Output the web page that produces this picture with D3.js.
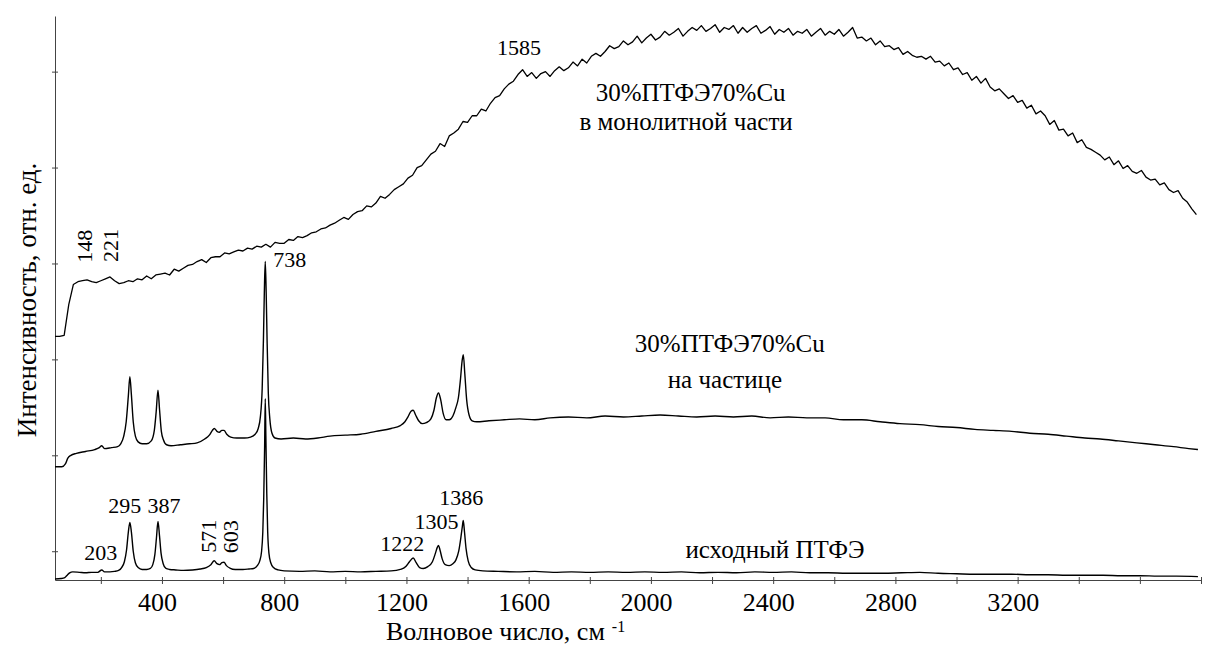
<!DOCTYPE html>
<html>
<head>
<meta charset="utf-8">
<script src="https://cdn.jsdelivr.net/npm/d3@7"></script>
<style>
  html, body { margin: 0; padding: 0; background: #fff; }
  svg { display: block; }
</style>
</head>
<body>
<svg id="chart" width="1205" height="646"></svg>
<script>
// Raman spectra of PTFE and the 30% PTFE / 70% Cu composite (intensity in arbitrary units)

// x axis ticks (wavenumber, cm^-1) and the ones that carry labels
const xTicks = [200, 400, 600, 800, 1000, 1200, 1400, 1600, 1800, 2000, 2200, 2400, 2600, 2800, 3000, 3200, 3400, 3600, 3800];
const xTickLabels = [400, 800, 1200, 1600, 2000, 2400, 2800, 3200];
// unlabelled intensity ticks
const yTicks = [30, 130, 230, 330, 430, 530];

// 30%ПТФЭ70%Cu, monolithic part: sampled every 15 cm^-1 starting at 50 cm^-1
const monoStart = 50;
const monoStep = 15;
const monoValues = [
  254, 254, 255, 287, 308, 311, 312, 313, 311, 310,
  312, 314, 316, 312, 309, 310, 312, 311, 314, 313,
  317, 314, 318, 319, 320, 318, 324, 322, 325, 328,
  329, 332, 334, 331, 336, 337, 337, 341, 340, 342,
  344, 343, 346, 345, 348, 347, 350, 347, 352, 351,
  351, 355, 354, 358, 357, 359, 362, 363, 366, 367,
  370, 372, 375, 378, 376, 381, 384, 385, 390, 389,
  393, 400, 398, 402, 407, 410, 413, 419, 422, 430,
  432, 438, 444, 447, 455, 452, 463, 466, 470, 478,
  477, 484, 484, 491, 489, 497, 503, 505, 512, 517,
  520, 527, 532, 525, 529, 523, 528, 530, 525, 531,
  535, 531, 534, 540, 536, 543, 539, 546, 549, 546,
  551, 557, 554, 556, 562, 558, 561, 567, 560, 565,
  569, 563, 566, 572, 568, 571, 575, 567, 572, 576,
  573, 578, 572, 575, 579, 571, 576, 574, 578, 570,
  576, 571, 575, 578, 570, 573, 577, 569, 574, 571,
  575, 568, 572, 570, 574, 567, 571, 575, 568, 572,
  569, 574, 567, 571, 576, 565, 566, 562, 565, 558,
  562, 556, 557, 553, 555, 548, 551, 547, 545, 546,
  543, 546, 540, 541, 536, 539, 532, 534, 527, 529,
  521, 525, 518, 523, 514, 510, 512, 507, 502, 505,
  498, 500, 492, 495, 486, 489, 484, 475, 479, 469,
  470, 463, 466, 456, 459, 451, 449, 446, 443, 438,
  441, 433, 437, 429, 432, 426, 424, 427, 420, 417,
  418, 412, 414, 407, 404, 406, 398, 394, 387, 381
];

// 30%ПТФЭ70%Cu, on a particle: [wavenumber, intensity]
const particle = [
  [50, 118], [72, 118], [84, 121], [92, 127], [102, 130], [120, 132], [150, 134], [180, 136],
  [195, 138], [203, 140], [212, 137], [235, 138], [255, 139], [265, 142], [275, 150], [283, 165],
  [290, 192], [295, 212], [300, 193], [306, 165], [313, 150], [322, 144], [335, 142], [350, 142],
  [365, 145], [375, 156], [381, 175], [387, 198], [392, 178], [398, 155], [405, 146], [415, 141],
  [430, 140], [460, 141], [490, 142], [515, 143], [540, 147], [555, 151], [565, 156], [571, 158],
  [580, 155], [588, 154], [596, 156], [603, 156], [612, 152], [625, 149], [645, 148], [670, 148],
  [690, 149], [705, 152], [715, 158], [722, 170], [728, 200], [732, 250], [735, 300], [738, 332],
  [741, 300], [744, 250], [748, 195], [753, 168], [760, 153], [770, 148], [790, 147], [830, 148],
  [870, 147], [910, 148], [950, 150], [1000, 151], [1050, 152], [1100, 155], [1150, 158], [1180, 161],
  [1195, 165], [1205, 170], [1215, 176], [1222, 177], [1230, 172], [1240, 166], [1252, 163], [1265, 164],
  [1280, 168], [1290, 177], [1298, 190], [1305, 195], [1312, 188], [1320, 174], [1330, 167], [1340, 167],
  [1352, 171], [1362, 180], [1370, 190], [1377, 210], [1382, 228], [1386, 235], [1391, 215], [1397, 188],
  [1405, 172], [1415, 166], [1430, 165], [1470, 166], [1520, 167], [1570, 168], [1620, 167], [1670, 169],
  [1730, 170], [1790, 169], [1850, 171], [1910, 170], [1970, 171], [2030, 172], [2090, 171], [2150, 170],
  [2210, 171], [2270, 170], [2330, 171], [2390, 169], [2450, 170], [2510, 169], [2570, 169], [2630, 167],
  [2690, 167], [2750, 165], [2815, 163], [2880, 162], [2940, 160], [3000, 159], [3060, 157], [3120, 156],
  [3180, 155], [3240, 153], [3300, 152], [3360, 150], [3420, 148], [3470, 147], [3530, 145], [3590, 143],
  [3650, 141], [3710, 139], [3760, 137], [3790, 136]
];

// исходный ПТФЭ: [wavenumber, intensity]
const ptfe = [
  [50, 1], [70, 1.5], [82, 2.5], [90, 5], [98, 7.5], [108, 8.5], [130, 8], [150, 7.5], [170, 8],
  [190, 8], [203, 10.5], [212, 8.5], [230, 8.5], [245, 9], [258, 10], [268, 13], [277, 19], [284, 31],
  [290, 50], [295, 60], [300, 50], [306, 30], [313, 18], [322, 13], [335, 11], [350, 11], [362, 12],
  [370, 16], [377, 27], [382, 44], [387, 61], [392, 46], [397, 28], [404, 17], [413, 12], [425, 11],
  [445, 10.5], [470, 10], [500, 10.5], [525, 11.5], [545, 13], [560, 16], [571, 20], [580, 17],
  [588, 16], [596, 18], [603, 18.5], [611, 15], [622, 12.5], [640, 11], [665, 11], [685, 11.5],
  [700, 12], [712, 15], [720, 20], [726, 30], [730, 50], [733, 85], [736, 140], [738, 189],
  [740, 150], [743, 90], [746, 50], [750, 28], [756, 18], [765, 13], [780, 10.5], [800, 9.5],
  [850, 9], [900, 9.5], [950, 8.5], [1000, 9], [1050, 8.5], [1100, 9], [1150, 9.5], [1180, 11],
  [1198, 14], [1210, 19], [1222, 23], [1232, 18], [1243, 13], [1255, 12], [1270, 14], [1285, 19],
  [1295, 28], [1301, 34], [1305, 36], [1310, 31], [1317, 22], [1327, 16], [1340, 15], [1352, 17],
  [1362, 21], [1371, 30], [1378, 44], [1383, 56], [1386, 62], [1390, 50], [1395, 33], [1402, 20],
  [1412, 13], [1425, 10.5], [1450, 9.5], [1500, 9], [1560, 8.5], [1620, 9], [1680, 8], [1740, 8.5],
  [1800, 8], [1860, 8.5], [1920, 8], [1980, 8.5], [2040, 8], [2100, 8.5], [2160, 7.5], [2220, 8],
  [2280, 7.5], [2340, 8.5], [2400, 8], [2460, 8.5], [2520, 7.5], [2580, 7.5], [2640, 7], [2700, 7],
  [2760, 7], [2820, 7.5], [2880, 8], [2940, 7], [3000, 6.5], [3060, 6], [3120, 6], [3180, 6],
  [3240, 5.5], [3300, 5.5], [3360, 5], [3420, 5], [3480, 5], [3540, 4.5], [3600, 4.5], [3660, 4],
  [3720, 4], [3790, 3.5]
];

const mono = monoValues.map((v, i) => [monoStart + i * monoStep, v]);

const serif = '"Liberation Serif", "Times New Roman", "DejaVu Serif", serif';
const svg = d3.select("#chart").attr("font-family", serif);
svg.append("rect").attr("width", 1205).attr("height", 646).attr("fill", "#fff");

const x = d3.scaleLinear().domain([50, 3800]).range([55, 1201]);
const y = d3.scaleLinear().domain([0, 588]).range([580, 16]);

// axes
const axisColor = "#444";
const gx = svg.append("g")
  .attr("transform", `translate(0,${y(0)})`)
  .call(d3.axisBottom(x)
    .tickValues(xTicks)
    .tickSizeOuter(0)
    .tickSizeInner(4)
    .tickFormat(d => xTickLabels.includes(d) ? d : ""));
gx.attr("font-family", serif);
gx.select(".domain").attr("stroke", axisColor);
gx.selectAll(".tick line").attr("stroke", axisColor).attr("y1", -3).attr("y2", 4);
gx.selectAll(".tick text")
  .attr("y", 31).attr("dy", null).attr("dx", -5)
  .attr("fill", "#000")
  .attr("font-family", serif)
  .attr("font-size", 26);

const gy = svg.append("g")
  .attr("transform", `translate(${x(50)},0)`)
  .call(d3.axisLeft(y).tickValues(yTicks).tickSizeOuter(0).tickSizeInner(3).tickFormat(""));
gy.select(".domain").attr("stroke", axisColor);
gy.selectAll(".tick line").attr("stroke", axisColor).attr("x1", -3).attr("x2", 3);

// spectra
const smooth = d3.line().x(d => x(d[0])).y(d => y(d[1])).curve(d3.curveMonotoneX);
const raw = d3.line().x(d => x(d[0])).y(d => y(d[1]));

svg.append("path").datum(ptfe).attr("d", smooth)
  .attr("fill", "none").attr("stroke", "#000").attr("stroke-width", 1.4);
svg.append("path").datum(particle).attr("d", smooth)
  .attr("fill", "none").attr("stroke", "#000").attr("stroke-width", 1.4);
svg.append("path").datum(mono).attr("d", raw)
  .attr("fill", "none").attr("stroke", "#000").attr("stroke-width", 1.3)
  .attr("stroke-linejoin", "round");

// peak labels, anchored to the local maximum of their spectrum
function peakValue(series, w) {
  return d3.max(series.filter(d => Math.abs(d[0] - w) <= 10), d => d[1]);
}
const peakNotes = [
  { s: ptfe, w: 203, dx: -1, dy: -10 },
  { s: ptfe, w: 295, dx: -5, dy: -9 },
  { s: ptfe, w: 387, dx: 6, dy: -8.5 },
  { s: ptfe, w: 1222, dx: -11, dy: -7 },
  { s: ptfe, w: 1305, dx: -2, dy: -16 },
  { s: ptfe, w: 1386, dx: -2, dy: -15.5 },
  { s: ptfe, w: 571, dx: -6, dy: -8, vertical: true },
  { s: ptfe, w: 603, dx: 7, dy: -9, vertical: true },
  { s: particle, w: 738, dx: 8, dy: 5, anchor: "start" },
  { s: mono, w: 148, dx: 0, dy: -17, vertical: true },
  { s: mono, w: 221, dx: 3, dy: -15, vertical: true },
  { s: mono, w: 1585, dx: -5, dy: -15 }
];
peakNotes.forEach(n => {
  const px = x(n.w) + n.dx;
  const py = y(peakValue(n.s, n.w)) + n.dy;
  const t = svg.append("text")
    .attr("fill", "#000")
    .attr("font-size", 22)
    .text(n.w);
  if (n.vertical) {
    t.attr("transform", `translate(${px},${py}) rotate(-90)`)
      .attr("text-anchor", "start")
      .attr("dy", "0.34em");
  } else {
    t.attr("x", px).attr("y", py).attr("text-anchor", n.anchor || "middle");
  }
});

// series captions
const captions = [
  { w: 2130, v: 499, text: "30%ПТФЭ70%Cu" },
  { w: 2115, v: 469, text: "в монолитной части" },
  { w: 2258, v: 238, text: "30%ПТФЭ70%Cu" },
  { w: 2242, v: 200, text: "на частице" },
  { w: 2406, v: 23, text: "исходный ПТФЭ" }
];
svg.selectAll("text.caption").data(captions).join("text")
  .attr("class", "caption")
  .attr("x", d => x(d.w)).attr("y", d => y(d.v))
  .attr("text-anchor", "middle")
  .attr("fill", "#000")
  .attr("font-size", 25)
  .text(d => d.text);

// axis titles
const xt = svg.append("text")
  .attr("x", 386).attr("y", 640)
  .attr("fill", "#000")
  .attr("font-size", 26)
  .text("Волновое число, см");
xt.append("tspan").attr("dx", 7).attr("dy", -8).attr("font-size", 16).text("-1");

svg.append("text")
  .attr("transform", "translate(36,300) rotate(-90)")
  .attr("text-anchor", "middle")
  .attr("fill", "#000")
  .attr("font-size", 27)
  .text("Интенсивность, отн. ед.");
</script>
</body>
</html>
